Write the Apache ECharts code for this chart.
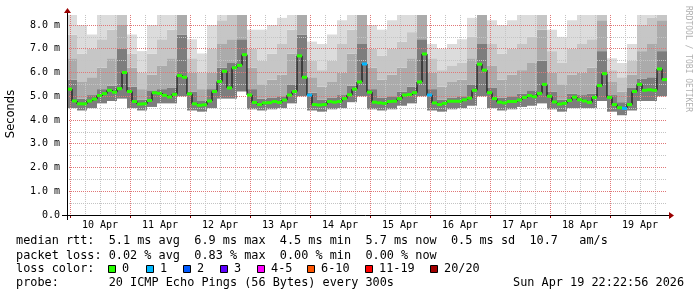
<!DOCTYPE html>
<html><head><meta charset="utf-8">
<script src="https://cdn.jsdelivr.net/npm/echarts@6/dist/echarts.min.js"></script>
<style>html,body{margin:0;padding:0;background:#fff}#c{width:697px;height:297px}</style>
</head><body><div id="c"></div>
<script>
// ---- data ----
const days = ['10 Apr','11 Apr','12 Apr','13 Apr','14 Apr','15 Apr','16 Apr','17 Apr','18 Apr','19 Apr'];
const yTickLabels = ['0.0','1.0 m','2.0 m','3.0 m','4.0 m','5.0 m','6.0 m','7.0 m','8.0 m'];
// median RTT (ms), 2-hour samples
const median = [
 5.3,4.8,4.68,4.68,4.8,4.88,5.03,5.11,5.25,5.17,
 5.32,6.0,5.2,4.78,4.67,4.68,4.82,5.15,5.12,5.04,
 4.97,5.08,5.87,5.8,5.1,4.68,4.62,4.64,4.8,5.2,
 5.62,6.05,5.35,6.2,6.3,6.75,5.05,4.74,4.65,4.72,
 4.73,4.78,4.74,4.84,5.05,5.2,6.7,5.8,5.05,4.65,
 4.63,4.65,4.78,4.75,4.78,4.9,5.06,5.3,5.6,6.36,
 5.17,4.75,4.72,4.7,4.78,4.79,4.9,5.05,5.07,5.15,
 5.6,6.78,5.05,4.72,4.65,4.7,4.79,4.79,4.79,4.85,
 4.92,5.25,6.35,6.1,5.15,4.9,4.75,4.72,4.78,4.78,
 4.84,4.95,5.03,4.98,5.12,5.5,5.0,4.76,4.67,4.7,
 4.82,4.96,4.85,4.8,4.74,4.95,5.45,5.95,4.95,4.65,
 4.52,4.49,4.65,5.2,5.5,5.25,5.27,5.25,6.15,5.7];
// lost pings per sample
const loss = [
 0,0,0,0,0,0,0,0,0,0, 0,0,0,0,0,0,0,0,0,0,
 0,0,0,0,0,0,0,0,0,0, 0,0,0,0,0,0,0,0,0,0,
 0,0,0,0,0,0,0,0,1,0, 0,0,0,0,0,0,0,0,0,1,
 0,0,0,0,0,0,0,0,0,0, 0,0,1,0,0,0,0,0,0,0,
 0,0,0,0,0,0,0,0,0,0, 0,0,0,0,0,0,0,0,0,0,
 0,0,0,0,0,0,0,0,0,0, 0,1,0,0,0,0,0,0,0,0];
// smoke percentiles (ms), 4-hour samples
const smokeLo = [
 4.5,4.4,4.5,4.7,4.8,4.9,4.5,4.4,4.55,4.7, 4.7,5.0,4.4,4.35,4.5,4.9,4.9,5.2,4.45,4.4,
 4.45,4.5,4.7,5.0,4.4,4.35,4.45,4.5,4.75,5.0, 4.45,4.4,4.45,4.6,4.7,5.0,4.4,4.35,4.45,4.5,
 4.6,5.0,4.5,4.4,4.45,4.55,4.6,4.7,4.45,4.35, 4.5,4.5,4.5,4.8,4.35,4.2,4.4,4.8,4.8,5.0];
const smokeDark = [
 5.7,4.9,5.05,5.3,5.45,7.0,5.4,4.85,5.25,5.3, 5.35,7.6,5.2,4.8,5.3,6.2,6.4,7.4,5.3,4.9,
 4.95,5.0,5.5,7.6,5.15,4.85,4.95,5.05,5.45,7.2, 5.3,4.95,5.0,5.2,5.4,7.4,5.3,4.85,4.95,5.0,
 5.5,7.2,5.35,4.95,5.0,5.1,5.25,6.5,5.2,4.85, 5.1,5.05,5.1,6.9,5.05,4.75,5.35,5.75,5.8,6.9];
const smokeMid = [
 6.6,5.6,5.8,6.2,6.6,8.0,6.2,5.3,5.9,6.3, 6.6,8.5,6.0,5.3,6.0,7.2,7.4,8.5,6.2,5.5,
 5.7,5.9,6.8,8.5,5.8,5.4,5.6,6.0,6.8,8.5, 6.2,5.7,5.9,6.2,6.6,8.5,6.0,5.4,5.6,5.7,
 6.6,8.5,6.3,5.7,5.9,6.1,6.4,7.8,6.0,5.5, 5.9,6.0,6.2,8.2,5.6,5.2,5.9,6.9,7.2,8.2];
const smokeLight = [
 7.6,6.8,7.0,7.4,7.8,8.5,6.8,6.0,6.8,7.4, 7.8,8.5,6.6,6.0,7.0,8.2,8.5,8.5,7.0,6.5,
 6.8,7.2,7.8,8.5,6.5,6.1,6.5,7.2,7.8,8.5, 7.0,6.7,7.0,7.3,7.7,8.5,6.6,6.1,6.3,6.4,
 7.5,8.5,7.2,6.8,7.0,7.2,7.5,8.5,6.9,6.4, 7.0,7.2,7.4,8.5,6.1,5.8,6.5,8.0,8.3,8.5];
const smokeHi = [
 8.5,8.0,7.6,8.5,8.5,8.5,7.6,6.9,8.0,8.5, 8.5,8.5,7.4,6.8,8.0,8.5,8.5,8.5,7.8,7.8,
 8.0,8.3,8.5,8.5,7.3,7.2,7.6,8.2,8.5,8.5, 8.0,7.8,8.2,8.5,8.5,8.5,7.2,7.0,7.2,7.4,
 8.3,8.5,8.2,8.0,8.2,8.5,8.5,8.5,7.8,7.5, 8.2,8.5,8.5,8.5,6.6,6.4,7.2,8.5,8.5,8.5];
const lossLabels = ['0','1','2','3','4-5','6-10','11-19','20/20'];
const lossColors = ['#26ff00','#00b8ff','#0059ff','#5e00ff','#ff00fe','#ff5500','#ff0000','#a10000'];
const statLines = [
 'median rtt:  5.1 ms avg  6.9 ms max  4.5 ms min  5.7 ms now  0.5 ms sd  10.7   am/s',
 'packet loss: 0.02 % avg  0.83 % max  0.00 % min  0.00 % now'];
const probeLine = 'probe:       20 ICMP Echo Pings (56 Bytes) every 300s';
const stampText = 'Sun Apr 19 22:22:56 2026';

// ---- chart ----
const chart = echarts.init(document.getElementById('c'), null, {renderer:'canvas'});
const mono = 'DejaVu Sans Mono';
const diff = (a, b) => a.map((v, k) => +(v - b[k]).toFixed(3));
const bands = [
  {data: smokeLo, color: 'rgba(0,0,0,0)'},
  {data: diff(smokeDark, smokeLo), color: '#7d7d7d'},
  {data: diff(smokeMid, smokeDark), color: '#ababab'},
  {data: diff(smokeLight, smokeMid), color: '#c6c6c6'},
  {data: diff(smokeHi, smokeLight), color: '#dcdcdc'}
];
const gridRed = {color:'#e07777', type:[1,1], width:1};
const gridGray = {color:'#c4c4c4', type:[1,1], width:1};
const YMAX = 8.421;

const graphics = [];
graphics.push({type:'line', silent:true, z:50, shape:{x1:62,y1:215.5,x2:669,y2:215.5}, style:{stroke:'#000',lineWidth:1}});
graphics.push({type:'line', silent:true, z:50, shape:{x1:67.5,y1:220,x2:67.5,y2:12}, style:{stroke:'#000',lineWidth:1}});
graphics.push({type:'polygon', silent:true, z:51, shape:{points:[[669,212],[674,215.5],[669,219]]}, style:{fill:'#9a0000'}});
graphics.push({type:'polygon', silent:true, z:51, shape:{points:[[64,13],[71,13],[67.5,8]]}, style:{fill:'#9a0000'}});
graphics.push({type:'text', x:11, y:114, rotation:Math.PI/2, z:50,
  style:{text:'Seconds', fontFamily:'DejaVu Sans', fontSize:11.5, fill:'#000', textAlign:'center', textVerticalAlign:'middle', align:'center', verticalAlign:'middle'}});
graphics.push({type:'text', x:688, y:59, rotation:-Math.PI/2, z:50,
  style:{text:'RRDTOOL / TOBI OETIKER', fontFamily:mono, fontSize:8, fill:'#b0b0b0', textAlign:'center', textVerticalAlign:'middle', align:'center', verticalAlign:'middle'}});
const lineY = [241, 255.5, 269, 283];
statLines.forEach((t, k) => graphics.push({type:'text', x:16, y:lineY[k], z:50,
  style:{text:t, fontFamily:mono, fontSize:11.85, fill:'#000', textVerticalAlign:'middle', verticalAlign:'middle'}}));
graphics.push({type:'text', x:16, y:lineY[2], z:50, style:{text:'loss color:', fontFamily:mono, fontSize:11.85, fill:'#000', textVerticalAlign:'middle', verticalAlign:'middle'}});
const boxX = [108,146,183,220,257,307,365,430];
lossLabels.forEach((lab, k) => {
  graphics.push({type:'rect', z:50, shape:{x:boxX[k]+0.5, y:265.5, width:7, height:7}, style:{fill:lossColors[k], stroke:'#000', lineWidth:1}});
  graphics.push({type:'text', x:boxX[k]+14, y:lineY[2], z:50, style:{text:lab, fontFamily:mono, fontSize:11.85, fill:'#000', textVerticalAlign:'middle', verticalAlign:'middle'}});
});
graphics.push({type:'text', x:16, y:lineY[3], z:50, style:{text:probeLine, fontFamily:mono, fontSize:11.85, fill:'#000', textVerticalAlign:'middle', verticalAlign:'middle'}});
graphics.push({type:'text', x:513, y:lineY[3], z:50, style:{text:stampText, fontFamily:mono, fontSize:11.85, fill:'#000', textVerticalAlign:'middle', verticalAlign:'middle'}});

const option = {
  animation: false,
  backgroundColor: '#fff',
  grid: [
    {left:67, top:15, width:600, height:200, containLabel:false},
    {left:70, top:15, width:600, height:200, containLabel:false}
  ],
  xAxis: [
    {type:'category', gridIndex:0, data: median.map((_, i) => i), boundaryGap:true, show:false, position:'bottom'},
    {type:'category', gridIndex:0, data: smokeLo.map((_, j) => j), boundaryGap:true, show:false, position:'top'},
    {type:'value', gridIndex:1, min:0, max:240, interval:6, z:5, position:'top',
      axisLine:{show:false}, axisTick:{show:false}, axisLabel:{show:false},
      splitLine:{show:true, showMinLine:true, showMaxLine:false, lineStyle:gridGray}},
    {type:'category', gridIndex:1, data: days, boundaryGap:true, z:6, position:'bottom',
      axisLine:{show:false},
      axisTick:{show:true, length:3, lineStyle:{color:'#9a0000'}},
      axisLabel:{show:true, interval:0, margin:5, color:'#000', fontFamily:mono, fontSize:10},
      splitLine:{show:true, showMinLine:true, showMaxLine:false, interval:0, lineStyle:gridRed}}
  ],
  yAxis: [
    {type:'value', gridIndex:0, min:0, max:YMAX, interval:1, z:6, position:'left',
      axisLine:{show:false}, axisTick:{show:false},
      axisLabel:{show:true, showMaxLabel:false, margin:7, color:'#000', fontFamily:mono, fontSize:10,
        formatter: v => { const k = Math.round(v); return Math.abs(v - k) < 1e-6 && yTickLabels[k] ? yTickLabels[k] : ''; }},
      splitLine:{show:true, showMinLine:false, showMaxLine:false, lineStyle:gridRed}},
    {type:'value', gridIndex:0, min:0, max:YMAX, interval:0.5, z:5, position:'right',
      axisLine:{show:false}, axisTick:{show:false}, axisLabel:{show:false},
      splitLine:{show:true, showMinLine:false, showMaxLine:false, lineStyle:gridGray}},
    {type:'value', gridIndex:1, min:0, max:1, show:false}
  ],
  series: [
    ...bands.map((b, k) => ({
      type:'bar', name:'smoke'+k, xAxisIndex:1, yAxisIndex:0, stack:'smoke',
      data:b.data, barWidth:'100%', barCategoryGap:'0%', silent:true, z:2,
      itemStyle:{color:b.color}, clip:true
    })),
    {type:'line', xAxisIndex:0, yAxisIndex:0, data:median, step:'middle', symbol:'none',
      lineStyle:{color:'#000', width:1}, z:10, silent:true},
    {type:'scatter', xAxisIndex:0, yAxisIndex:0, symbol:'rect', symbolSize:[5,3], z:11, silent:true,
      data: median.map((v, i) => ({value:[i, v], itemStyle:{color: lossColors[loss[i]], opacity:1}}))}
  ],
  graphic: graphics
};
chart.setOption(option);
</script>
</body></html>
